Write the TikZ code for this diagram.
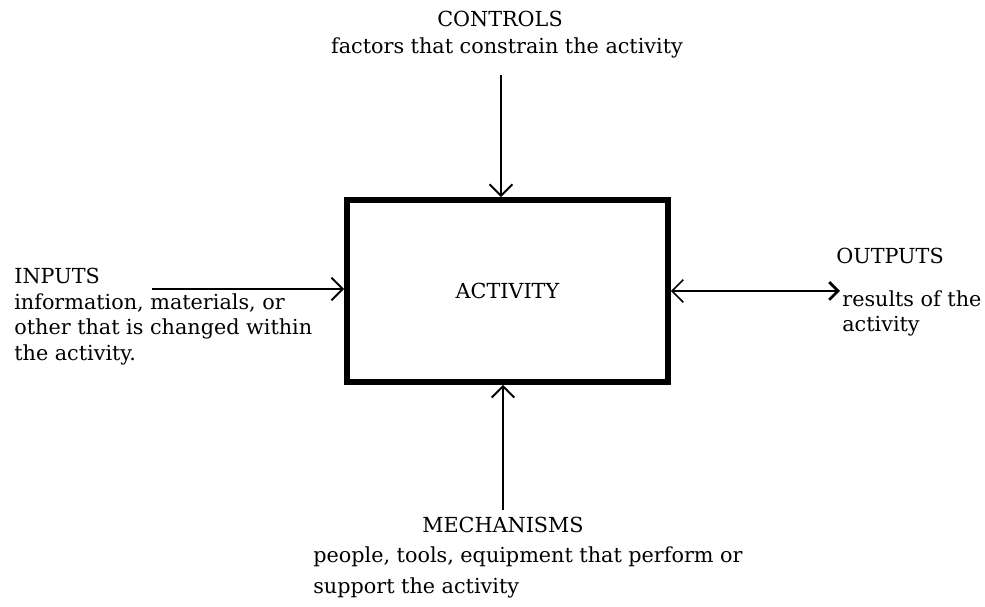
\documentclass[tikz,border=0pt]{standalone}
\usepackage{fontspec}
\setmainfont{DejaVu Serif}
\usetikzlibrary{arrows.meta, positioning}

\begin{document}
\begin{tikzpicture}[x=0.02cm, y=-0.02cm,
    lbl/.style={font=\fontsize{11.8}{14.5}\selectfont, inner sep=0pt},
    flow/.style={line width=1.1pt, -{Straight Barb[length=6.5pt, width=13pt, line width=1.1pt]}}]
    \useasboundingbox (0,0) rectangle (985,607);

    % Activity box
    \node[draw, line width=3.2pt, minimum width=6.42cm, minimum height=3.64cm, lbl] (act) at (507.5,291) {ACTIVITY};

    % Controls
    \node[lbl] (ctrl) at (500,19) {CONTROLS};
    \node[lbl] (ctrlnote) at (507,48) {factors that constrain the activity};
    \coordinate (ctrltail) at (501,75);
    \draw[flow] (ctrltail) -- (ctrltail |- act.north);

    % Inputs
    \node[lbl, align=left, anchor=north west] (inp) at (14,268) {INPUTS\\information, materials, or\\other that is changed within\\the activity.};
    \coordinate (intail) at (152,289);
    \draw[flow] (intail) -- (intail -| act.west);

    % Outputs
    \node[lbl] (outp) at (890,256) {OUTPUTS};
    \node[lbl, align=left, anchor=north west] (outnote) at (842,290) {results of the\\activity};
    \coordinate (outhead) at (840,291);
    \draw[line width=1.1pt, {Straight Barb[length=6.5pt, width=13pt, line width=0.9pt]}-{Straight Barb[length=5pt, width=10pt, line width=1.6pt]}] (outhead -| act.east) -- (outhead);

    % Mechanisms
    \node[lbl] (mech) at (503,525) {MECHANISMS};
    \node[lbl, align=left, anchor=north west, font=\fontsize{11.8}{18}\selectfont] (mechnote) at (313,546) {people, tools, equipment that perform or\\support the activity};
    \coordinate (mechtail) at (503,510);
    \draw[flow] (mechtail) -- (mechtail |- act.south);
\end{tikzpicture}
\end{document}
